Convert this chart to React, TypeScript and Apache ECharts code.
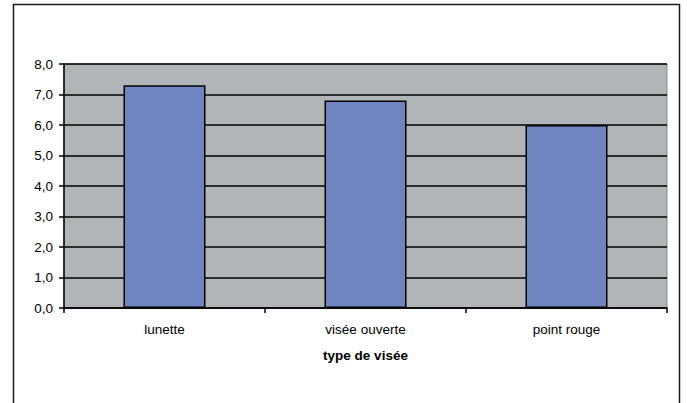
import React, { useEffect, useRef } from "react";
import * as echarts from "echarts";

const categories = ["lunette", "visée ouverte", "point rouge"];
const values = [7.3, 6.8, 6.0];
const xAxisTitle = "type de visée";

export default function App() {
  const ref = useRef<HTMLDivElement>(null);
  useEffect(() => {
    document.body.style.margin = "0";
    const chart = echarts.init(ref.current!, null, { renderer: "svg" });
    chart.setOption({
      animation: false,
      backgroundColor: "#ffffff",
      textStyle: { fontFamily: "Liberation Sans, Arial, sans-serif" },
      graphic: [
        {
          type: "rect",
          shape: { x: 13.5, y: 4.5, width: 666, height: 420 },
          style: { fill: "none", stroke: "#1a1a1a", lineWidth: 1.5 },
          z: 10,
        },
      ],
      grid: {
        left: 64,
        top: 64,
        right: 20,
        bottom: 95,
        show: true,
        backgroundColor: "#b1b5b7",
        borderColor: "#7d8a8a",
        borderWidth: 1,
      },
      xAxis: {
        type: "category",
        data: categories,
        name: xAxisTitle,
        nameLocation: "middle",
        nameGap: 40,
        nameTextStyle: { fontWeight: "bold", fontSize: 13.5, color: "#000" },
        axisLine: { show: true, lineStyle: { color: "#000", width: 1.5 } },
        axisTick: { show: true, length: 5, lineStyle: { color: "#000", width: 1.5 } },
        axisLabel: { fontSize: 13.5, color: "#000", margin: 14 },
      },
      yAxis: {
        type: "value",
        min: 0,
        max: 8,
        interval: 1,
        axisLine: { show: true, lineStyle: { color: "#000", width: 1.5 } },
        axisTick: { show: true, length: 5, lineStyle: { color: "#000", width: 1.5 } },
        axisLabel: {
          fontSize: 13.5,
          color: "#000",
          margin: 11,
          formatter: (v: number) => v.toFixed(1).replace(".", ","),
        },
        splitLine: { show: true, lineStyle: { color: "#000", width: 1.5 } },
      },
      series: [
        {
          type: "bar",
          data: values,
          barWidth: 82,
          itemStyle: { color: "#6e85c1", borderColor: "#000", borderWidth: 1.5 },
        },
      ],
    });
    return () => chart.dispose();
  }, []);
  return <div ref={ref} style={{ width: 687, height: 403 }} />;
}
